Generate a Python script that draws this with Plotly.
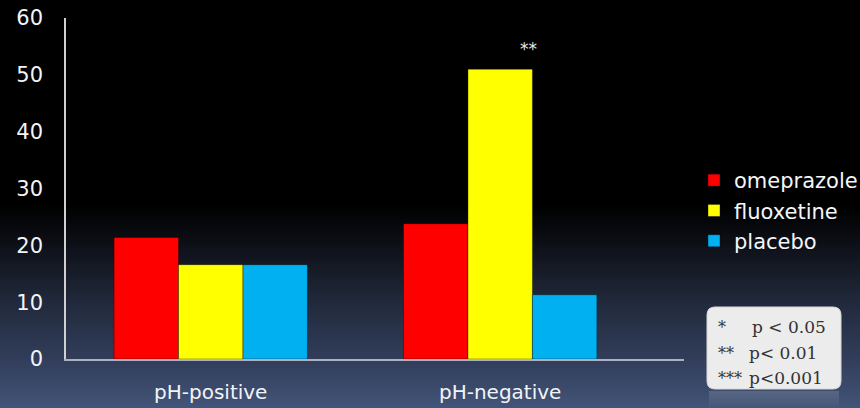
import plotly.graph_objects as go

# Data
categories = ["pH-positive", "pH-negative"]
omeprazole = [21.4, 23.8]
fluoxetine = [16.6, 51.0]
placebo = [16.6, 11.3]
series_names = ["omeprazole", "fluoxetine", "placebo"]
series_colors = ["#ff0000", "#ffff00", "#00b0f0"]
y_ticks = [0, 10, 20, 30, 40, 50, 60]
sig_label = "**"
sig_lines = [("*", "p < 0.05"), ("**", "p< 0.01"), ("***", "p<0.001")]

W, H = 860, 408
M_L, M_R, M_T, M_B = 66, 176, 18, 49
PLOT_W = W - M_L - M_R
PLOT_H = H - M_T - M_B


def px_to_paper_x(px):
    return (px - M_L) / PLOT_W


def px_to_paper_y(py):
    return (H - M_B - py) / PLOT_H


fig = go.Figure()
for name, vals, col in zip(series_names, [omeprazole, fluoxetine, placebo], series_colors):
    fig.add_trace(go.Bar(
        name=name, x=categories, y=vals,
        marker=dict(color=col, line=dict(color="rgba(0,0,0,0.35)", width=1)),
    ))

# Background: black fading into slate blue toward the bottom
stops = [(0, (0, 0, 0)), (205, (0, 0, 0)), (240, (12, 14, 20)),
         (300, (32, 40, 58)), (360, (50, 62, 90)), (408, (66, 84, 120))]


def grad(py):
    for (a, ca), (b, cb) in zip(stops[:-1], stops[1:]):
        if a <= py <= b:
            t = (py - a) / (b - a) if b > a else 0
            return tuple(round(ca[i] + (cb[i] - ca[i]) * t) for i in range(3))
    return stops[-1][1]


X = px_to_paper_x
Y = px_to_paper_y

shapes = []
step = 2
for py in range(200, H, step):
    r, g, b = grad(py + step / 2)
    shapes.append(dict(
        type="rect", xref="paper", yref="paper", layer="below",
        x0=X(-5), x1=X(W + 5), y0=Y(py + step + 0.5), y1=Y(py),
        fillcolor=f"rgb({r},{g},{b})", line=dict(width=0),
    ))

# Rounded box holding the significance key
bx0, bx1, by0, by1, rad = 707, 841, 307, 389, 8
path = (f"M {X(bx0 + rad)},{Y(by0)} L {X(bx1 - rad)},{Y(by0)} "
        f"Q {X(bx1)},{Y(by0)} {X(bx1)},{Y(by0 + rad)} "
        f"L {X(bx1)},{Y(by1 - rad)} Q {X(bx1)},{Y(by1)} {X(bx1 - rad)},{Y(by1)} "
        f"L {X(bx0 + rad)},{Y(by1)} Q {X(bx0)},{Y(by1)} {X(bx0)},{Y(by1 - rad)} "
        f"L {X(bx0)},{Y(by0 + rad)} Q {X(bx0)},{Y(by0)} {X(bx0 + rad)},{Y(by0)} Z")
shapes.append(dict(type="path", path=path, xref="paper", yref="paper",
                   fillcolor="#ececec", line=dict(color="#d8d8d8", width=1), layer="above"))

# Faint fading reflection beneath the key box
for i, py in enumerate(range(by1 + 2, H, 2)):
    alpha = max(0.0, 0.16 - 0.018 * i)
    shapes.append(dict(
        type="rect", xref="paper", yref="paper", layer="above",
        x0=X(bx0 + 2), x1=X(bx1 - 2), y0=Y(py + 2), y1=Y(py),
        fillcolor=f"rgba(230,235,245,{alpha:.3f})", line=dict(width=0),
    ))

annotations = [dict(
    x="pH-negative", y=fluoxetine[1], xref="x", yref="y", text=sig_label,
    showarrow=False, yanchor="bottom", yshift=8, xshift=28,
    font=dict(family="DejaVu Sans", size=17, color="#e8e8e8"),
)]
line_y = [327, 353, 378]
p_x = [750, 747, 747]
for (stars, ptxt), ly, pxp in zip(sig_lines, line_y, p_x):
    annotations.append(dict(
        x=X(716), y=Y(ly), xref="paper", yref="paper", text=stars,
        showarrow=False, xanchor="left", yanchor="middle",
        font=dict(family="DejaVu Serif", size=16, color="#333333"),
    ))
    annotations.append(dict(
        x=X(pxp), y=Y(ly), xref="paper", yref="paper", text=ptxt,
        showarrow=False, xanchor="left", yanchor="middle",
        font=dict(family="DejaVu Serif", size=17, color="#333333"),
    ))

fig.update_layout(
    width=W, height=H,
    margin=dict(l=M_L, r=M_R, t=M_T, b=M_B, autoexpand=False),
    paper_bgcolor="#000000",
    plot_bgcolor="rgba(0,0,0,0)",
    barmode="group", bargap=0.332, bargroupgap=0,
    font=dict(family="DejaVu Sans", size=20, color="#f2f4f8"),
    showlegend=True,
    legend=dict(
        x=X(694), y=Y(160), xanchor="left", yanchor="top",
        bgcolor="rgba(0,0,0,0)", font=dict(size=21, color="#f4f6fa"),
        tracegroupgap=0,
    ),
    xaxis=dict(
        type="category", range=[-0.5, 1.635], showgrid=False, zeroline=False,
        showline=True, linecolor="#aab2c2", linewidth=2, ticks="", automargin=False,
        ticklabelstandoff=14, tickfont=dict(size=20, color="#f2f4f8"),
    ),
    yaxis=dict(
        range=[0, 60], tickvals=y_ticks, showgrid=False, zeroline=False,
        showline=True, linecolor="#d0d0d0", linewidth=1.5, ticks="", automargin=False,
        ticklabelstandoff=17, tickfont=dict(size=21, color="#f2f4f8"),
    ),
    shapes=shapes,
    annotations=annotations,
)

fig.write_html("out.html")
